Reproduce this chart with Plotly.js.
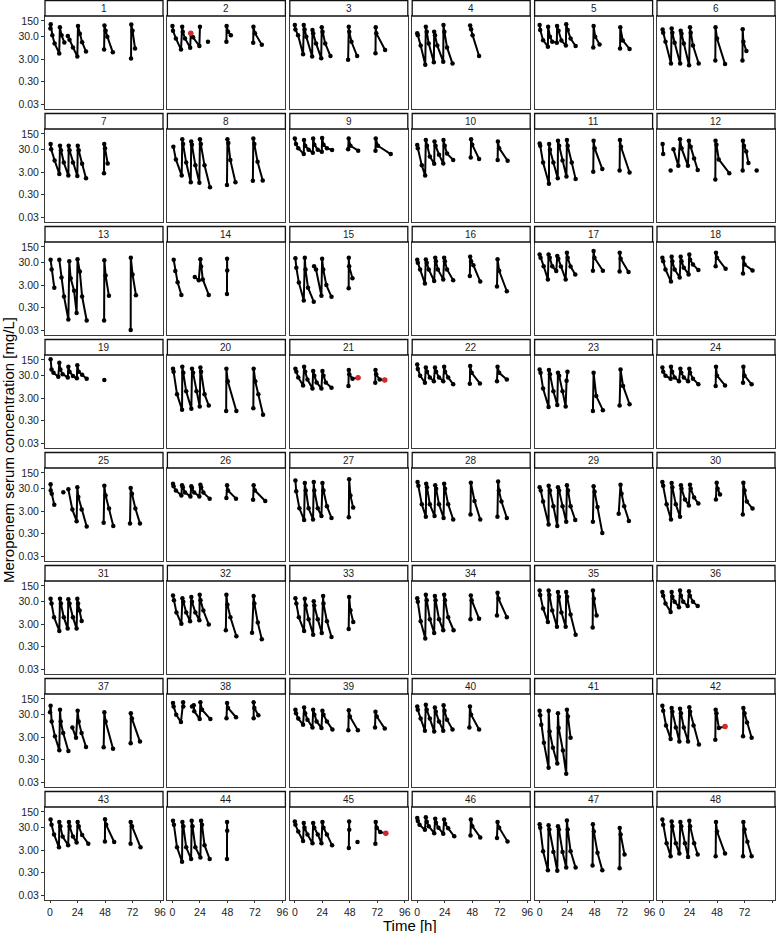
<!DOCTYPE html>
<html>
<head>
<meta charset="utf-8">
<script src="https://cdn.plot.ly/plotly-3.0.1.min.js"></script>
<style>html,body{margin:0;padding:0;background:#fff;}#plot{width:776px;height:933px;}</style>
</head>
<body>
<div id="plot"></div>
<script>
// Panel labels (patient IDs)
const panelLabels = Array.from({length: 48}, (_, i) => String(i + 1));

// Sampling times [h] per patient (null = break between sampling occasions)
const times = [
/*1*/ [0.3,0.6,2,4,8, 8.6,10,12.5, null, 15.5,17,20,23.8, 24.4,26,28,31.4, null, 47.2,47.5,48.5,50,54.8, null, 70.7,70.9,72,74.2],
/*2*/ [0,0.5,3,7.5, 8.5,9,11,15.5, 16,18,23.5, 24, null, 31, null, 47.1,47.3,48.5,51, null, 70.5,70.7,72,78],
/*3*/ [0,0.5,2.8,7.2, 7.8,8.5,10,15.1, 15.4,16,18.5,23, 23.5,24.2,26.5,31.1, null, 46.5,47.1,47.5,49.4,54.4, null, 70.4,70.6,71.1,78.8],
/*4*/ [0,0.5,3,7, 7.5,8.3,10,14.5, 14.8,15.5,17.5,22.7, 22.9,23.7,26,30.8, null, 46.2,47,48.3,54],
/*5*/ [0,0.5,3,7.2, 7.4,9,11,15, 15.2,16.5,19,22.9, 23.2,24.5,27,31.4, null, 46.8,47.1,48.5,52.3, null, 70.2,70.4,72.6,78.5],
/*6*/ [0.5,1,3,7.8, 8.4,9,11,15.8, 16.3,17,19,23.6, 24.4,25,27,32, null, 46.5,46.7,48,55, null, 70.2,70.4,71,73.6],
/*7*/ [0.5,1,4,8.1, 8.7,9.5,12,16, 16.3,17,20,23.8, 24.2,25,28,31.4, null, 47.1,47.3,48,50.3],
/*8*/ [0.8,3,8.1, 8.6,9.3,12,16, 16.4,17,20,23.5, 24,24.8,28,32.8, null, 47.6,48,48.8,50.5,55, null, 70.2,70.6,71.5,74.3,78.8],
/*9*/ [0,1,3,7.8, 8,9,12,15.7, 16,17,20,23.5, 23.8,25,28,32.5, null, 46.5,47,48.5,55.3, null, 70.4,70.6,72.5,83.7],
/*10*/ [0,0.5,4,6.9, 7.5,8.5,11,14.8, 15.1,16,19,22.7, 22.9,24,26,31.4, null, 46.7,47,48,54, null, 70.2,70.4,71.5,78.9],
/*11*/ [0,0.5,3,8.1, 8.3,9,12,15.8, 16,17,20,23.4, 23.8,24.5,28,31.4, null, 46.8,47.1,48,54.7, null, 69.8,70.1,71,78.5],
/*12*/ [0.5,1, null, 7.5, null, 10,14.2, 15.7,17,22.6, 23.4,25,28,31.1, null, 46.5,46.7,47.5,49.5,58.7, null, 70.4,70.6,71.5,73.5,75.4, null, 82.6],
/*13*/ [0.5,1.4,3.7, null, 8.1,10,12.2,16, 16.8,18,21,23.2, 24,26,28,32, null, 47.2,47.4,48.5,51.4, null, 70.4,70.5,72,75],
/*14*/ [1.1,2.5,4.5,7.8, null, 19.5,23, 24.4,25,26.5,31.7, null, 47.6,47.7,47.8],
/*15*/ [0.5,1.3,3.5,7.8, 8.7,9.3,11.5,16.5, null, 16.8,18.5,23.2, 23.8,24.8,27.5,32, null, 47,47.1,47.4,50.3],
/*16*/ [0,0.5,2.5,6.7, 7.5,8.3,10,14.8, 15.7,16.3,18,22.7, 23.5,24.1,26,31.4, null, 45.9,46.2,47,49,55, null, 69.6,70.1,71.5,78.2],
/*17*/ [0,0.8,3.5,7.2, 7.8,8.8,11,14.5, 15.4,16.3,18.5,22.7, 23.8,24.5,27,31.1, null, 46.5,47.1,47.8,55.2, null, 69.8,69.9,70.7,77.6],
/*18*/ [0.3,1,3,7.8, 8.4,9,11,15.4, 16.3,17,19,23.2, 23.8,24.5,27,31.7, null, 46.8,47.1,48,55.5, null, 70.7,71,72,79],
/*19*/ [0.5,1.3,3,7.2, 8.1,9,11,15.5, 16,17,20,23.4, 23.8,25,28,32, null, 47.4],
/*20*/ [0.5,1,4,8.4, 8.6,9.5,12,16.5, 17.1,18,21,23.8, 24.4,25,28,31.7, null, 46.9,47.1,48.3,55.8, null, 70.6,70.9,72.3,75,79.1],
/*21*/ [0.5,1.3,3,7.2, 8.1,9,11,15.4, 16,17,19,23.2, 24.1,25,27,32, null, 46.8,47.1,47.5,50.3,55.2, null, 70.2,70.4,71,74,78.5],
/*22*/ [0,0.5,2.5,6.7, 7.5,8.5,11,14.5, 15.5,16.5,19,22.7, 23.5,24.3,27,31.4, null, 45.9,46.2,47.5,54.7, null, 69.6,70.1,71.5,78.2],
/*23*/ [0,0.8,3,7.8, 8.1,9,12,15.4, 16,17,20,22.7, 23.5,24.3, null, 46.5,47.1,49.4,55.2, null, 69.8,70.6,72.8,78.5],
/*24*/ [0.3,1,3,7.5, 7.8,8.8,11,14.8, 16,16.8,19,22.7, 23.8,24.5,27,31.7, null, 46.8,47.1,48,55, null, 70.7,71,72,78.2],
/*25*/ [0.5,0.6,1.5,3.7, null, 11.6, null, 16,19.5,23.2, 23.8,24.7,27.6,32, null, 46.8,47.4,48.5,51.5,55.2, null, 69.8,70.4,71.5,74.5,78.5],
/*26*/ [0.5,1,3,7.8, 8.4,9,11,15.7, 16.5,17,19,23.5, 24.4,25,27,32.5, null, 47.1,47.7,48.5,55.5, null, 70.4,70.9,72,81],
/*27*/ [0.5,1.2,4,8.1, 8.7,9.5,12,15.9, 16.5,17,20,23.2, 24.1,25,28,32, null, 47.1,47.4,48.5,50.9],
/*28*/ [0.3,1,4,7.5, 7.8,8.5,11,15.1, 15.7,16.5,19,23, 23.5,24.3,27,31.4, null, 46.5,46.8,50,55, null, 70,70.6,71.3,73.5,78.2],
/*29*/ [0,1,3,7.8, 7.9,9,12,15.4, 16,17,20,23.2, 23.8,24.8,27,31.1, null, 46.5,47.1,48,50.5,54.7, null, 69,70.6,71.5,73.8,77.9],
/*30*/ [0.3,1,4,7.8, 8.4,9,12,15.7, 16.5,17,20,23.4, 24.4,25,28,31.7, null, 47,47.7,48.5,50.6, null, 70.5,71,72,74,79],
/*31*/ [0.5,1.3,3.5,8.1, 8.7,9.5,12,15.4, 16,17,20,23.2, 23.8,24.5,25.8,27.6],
/*32*/ [0.5,1.3,3.5,7.8, 8.7,9.5,12,15.4, 16.5,17,20,23.5, 23.8,24.5,27,31.7, null, 46.6,47.1,48,50.6,55.8, null, 69.5,70.9,71.5,74.5,78],
/*33*/ [0.5,1.3,3.5,8.1, 8.7,9.5,12,16, 16.5,17,20,23.5, 24.7,25,28,32, null, 47,47.4,48.5,51],
/*34*/ [0,0.5,3,7, 7.5,8.3,11,14.8, 15.4,16,19,22.7, 23.5,24.2,27,31.7, null, 46.5,46.8,47.5,54, null, 69.6,70.1,71,78.2],
/*35*/ [0,0.5,3,7.2, 7.8,8.5,11,15.1, 16,16.8,19,22.7, 23.2,24,27,31.4, null, 46.3,46.5,47.3,49.7],
/*36*/ [0.3,1,3,7.5, 8.4,9,11,14.8, 15.7,16.5,18.5,22.4, 23.5,24.3,27,31.1],
/*37*/ [0,0.5,1.4,4.3,8.1, 8.7,9.3,11.5,16, null, 19.5,22.7, 24.1,25,27.5,31.4, null, 46.8,47.4,48.5,55, null, 70.4,70.5,71.5,78.5],
/*38*/ [0.5,1,3.3,7.4, 9.3,9.5, null, 17.1,18.6,19,23.8, 24.4,25.8,33.1, null, 47.2,47.7,48.5,55.5, null, 70.9,70.9,71.5,75],
/*39*/ [0.5,1,3,7.2, 8.1,9,11,15.4, 16,17,19,23.2, 24.1,25,28,32.8, null, 46.7,47.1,48,55, null, 70,70.4,71.5,78.5],
/*40*/ [0,0.5,3,6.7, 7.5,8.3,11,14.8, 15.4,16.2,19,22.7, 23,23.8,26,30.8, null, 45.5,46,47,54],
/*41*/ [0,0.5,1.4,3.7,7.8, 7.9,8.7,11.6,15.4, 16,16.6,20.3,23.2, 23.8,24.7,27],
/*42*/ [0.3,1,3.5,7.5, 8.4,9,12,15.1, 15.7,16.5,19,22.7, 23.8,24.5,27.5,32.2, null, 46.5,46.8,47.5,49.6,55, null, 70.7,71,72,74.2,78.2],
/*43*/ [0.5,1.3,3.5,7.8, 8.1,9,11,15.8, 16.5,17,20,23.2, 24.1,25,28,33.4, null, 47.9,48,49,56, null, 70.3,70.4,71.5,79],
/*44*/ [0.5,1.3,4,8.4, 8.7,9.5,12,16.3, 16.8,17.5,20,24.4, 25,25.8,28,32.5, null, 47.6,47.7,47.8],
/*45*/ [0,0.5,3,7.2, 7.8,8.5,11,15.4, 16,17,20,23.2, 24.1,25,28,32.5, null, 47.1,47.4,47.5, null, 54.7, null, 70.3,70.6,71.5,74.5,79.4],
/*46*/ [0,0.5,2,6.7, 7.5,8.3,10,14.8, 15.7,16.3,18.5,22.7, 23.5,24.3,27,32.3, null, 46.5,46.8,48,55, null, 69.6,70.1,71.5,78.8],
/*47*/ [0,0.5,3,7.2, 7.8,8.5,12,15.4, 16,16.8,20,23.2, 23.8,24.5,27,31.4, null, 46.2,46.5,47.3,50.5,54.7, null, 69.8,69.9,70.7,74.1],
/*48*/ [0.3,1,4,7.5, 8.4,9,12,15.1, 16,16.8,20,22.7, 23.8,24.5,28,31.1, null, 46.8,47.1,48,55, null, 70.7,71,72,74.5,78.2]
];

// Meropenem serum concentrations [mg/L] per patient
const conc = [
/*1*/ [70,108,35,15,5.4, 78,35,16.5, null, 32,22,10,3.9, 90,40,17,6.5, null, 8,95,55,30,6, null, 3.2,105,55,9],
/*2*/ [90,55,25,8, 84,50,25,9.6, 43,28,11.5, 84, null, 17.7, null, 17.7,90,50,35, null, 16,84,43,13],
/*3*/ [100,63,35,5, 100,63,30,3.9, 60,43,15,3.3, 78,50,15,4.1, null, 2.8,84,50,17.7,4.1, null, 5.5,78,43,7.7],
/*4*/ [43,35,12,1.7, 84,50,15,2.2, 50,35,12,2.3, 100,50,10,1.9, null, 95,65,35,4.1],
/*5*/ [100,60,21,10.8, 84,30,18,16, 90,55,20,12, 106,60,25,11.5, null, 10,90,30,13.6, null, 9,78,20,8.5],
/*6*/ [63,45,17.7,1.9, 70,45,16,1.9, 55,40,15,1.6, 78,45,12,1.9, null, 2.6,78,25,1.8, null, 2.6,65,17.7,6.9],
/*7*/ [53,31,10,2.5, 45,28,8,2.1, 45,28,8,2.0, 45,28,7,1.6, null, 2.7,53,35,7.3],
/*8*/ [41,11,2.1, 87,53,8,1.07, 70,50,6,1.0, 87,53,6,0.64, null, 0.8,87,60,10.5,1.07, null, 1.25,95,53,8.7,1.27],
/*9*/ [95,53,35,19, 80,45,30,22, 95,50,30,24, 100,50,35,29, null, 31,95,45,27, null, 27,95,45,19],
/*10*/ [48,35,6,2.1, 80,45,15,7, 70,45,18,7.3, 80,45,20,10.5, null, 13.6,87,50,11.5, null, 10.5,70,35,9.6],
/*11*/ [57,45,8,0.9, 53,30,8,1.6, 75,45,10,1.9, 80,45,8,1.5, null, 3.1,75,35,4.1, null, 3.5,80,40,2.9],
/*12*/ [53,19, null, 3.5, null, 31,5.8, 87,35,5.8, 75,40,12,3.7, null, 1.4,75,50,11,2.7, null, 3.5,75,45,25,7.7, null, 3.5],
/*13*/ [40,15,2.3, null, 40,6.5,0.93,0.088, 35,6,1.7,0.17, 43,12,0.93,0.08, null, 0.08,38,8.1,1.0, null, 0.03,50,9,1.07],
/*14*/ [40,12.7,4,1.1, null, 6.9,4.9, 43,20,5.4,1.1, null, 1.2,45,13.6],
/*15*/ [47,18,3.9,0.62, 50,15,2.3,0.55, null, 21,15,1.0, 45,15,3,0.9, null, 2.2,50,21,6],
/*16*/ [40,30,15,3.5, 42,30,15,4.6, 50,35,15,5.4, 50,35,15,5, null, 7.7,55,35,23,4.3, null, 2.6,43,13,1.6],
/*17*/ [70,50,21,5.4, 70,50,21,12.7, 60,45,20,5.4, 84,50,20,9, null, 13,100,50,13, null, 12,84,45,11.5],
/*18*/ [50,35,15,4.3, 55,35,15,6.5, 55,35,18,9, 70,40,25,14, null, 21,84,50,16, null, 10,50,25,13.6],
/*19*/ [160,57,40,27, 113,57,35,25, 75,45,29,23, 87,45,33,22, null, 19],
/*20*/ [61,45,4.5,0.9, 75,40,6,1.0, 61,40,6,1.27, 70,45,4.5,1.4, null, 0.8,61,17,0.8, null, 1.07,61,17,4.5,0.54],
/*21*/ [61,45,25,11, 75,45,20,8.1, 48,30,15,8.1, 48,30,15,8.7, null, 10.5,53,35,22,24, null, 14.5,53,35,20,19],
/*22*/ [95,60,30,14.5, 70,45,25,17, 70,45,25,17, 75,45,25,12.3, null, 13,80,40,13.6, null, 17,75,40,20],
/*23*/ [57,40,8,1.2, 53,35,6,1.5, 41,30,6,1.27, 18,45, null, 0.8,41,3.7,0.87, null, 1.4,57,10.5,1.6],
/*24*/ [70,45,30,22, 75,45,25,17, 61,40,25,17, 61,40,22,12.3, null, 10.5,75,30,11, null, 14.5,75,30,12.3],
/*25*/ [47,25,18,5.8, null, 21, null, 28,3.5,1.07, 35,12.7,3.5,0.62, null, 0.9,40,15,3.9,0.66, null, 0.85,32,18,3.9,0.85],
/*26*/ [50,38,25,15, 43,35,20,13.6, 38,32,20,13.6, 45,35,20,10.8, null, 11.5,43,25,10.8, null, 9.6,43,25,8.5],
/*27*/ [70,23,4,1.2, 53,25,4,1.27, 60,25,4,1.8, 53,25,5,1.5, null, 1.6,78,15,4.3],
/*28*/ [60,40,6,1.7, 50,35,6,1.8, 43,30,6,1.5, 50,30,6,1.27, null, 2.1,55,8.5,1.27, null, 1.7,63,25,8.1,1.5],
/*29*/ [35,25,8,0.76, 40,25,5,0.66, 35,25,5,1.0, 43,25,4.9,1.2, null, 1.0,38,22,4.6,0.32, null, 2.3,45,18,5,1.1],
/*30*/ [60,40,6,1.27, 53,35,6,1.7, 43,30,10,5.4, 45,30,12,6.5, null, 10,55,30,16.5, null, 2.1,55,25,8,3.9],
/*31*/ [41,25,6.1,1.5, 41,25,6,1.9, 38,25,6,1.9, 41,25,12,4.1],
/*32*/ [57,35,10,3.1, 43,30,10,4, 48,30,10,4.5, 61,35,12,2.9, null, 1.6,61,22,6.1,0.87, null, 1.25,53,25,3.5,0.64],
/*33*/ [43,25,6,1.5, 41,20,5,1.0, 31,20,5,1.2, 53,25,4,0.8, null, 1.8,48,12.3,3.7],
/*34*/ [43,30,4,0.68, 61,35,5,1.2, 53,35,5,1.6, 61,35,6,1.6, null, 4.9,57,35,5.2, null, 7.3,75,40,6.1],
/*35*/ [95,60,15,3.7, 95,60,12,2.3, 80,50,10,2.3, 80,50,8,1.0, null, 2.1,95,40,7.3],
/*36*/ [80,55,25,10.5, 80,50,30,17, 95,55,30,19, 87,55,30,19],
/*37*/ [38,75,15,3.3,0.78, 50,15,4.6,0.72, null, 8,2.8, 45,15,4.6,1.1, null, 1.07,38,15,0.9, null, 1.6,35,20,1.9],
/*38*/ [100,70,30,14, 106,70, null, 70,78,43,19, 106,50,19, null, 21,100,60,23, null, 21,106,60,28],
/*39*/ [50,35,20,10.8, 63,35,18,8.1, 50,30,15,7.7, 45,30,15,6.5, null, 6,47,25,6, null, 8.1,40,25,7.2],
/*40*/ [70,50,20,5.8, 84,50,20,5.4, 63,40,15,5.8, 78,45,18,6.5, null, 8.1,70,30,6.5],
/*41*/ [45,28,10.8,1.7,0.13, 45,5.4,1.0,0.2, 35,7.7,0.76,0.07, 50,25,2.8],
/*42*/ [75,45,10,2.5, 60,40,8,1.9, 55,35,8,1.9, 65,40,10,1.4, null, 2.3,50,35,7.7,9, null, 3.3,60,35,13.6,2.8],
/*43*/ [70,40,15,4, 53,35,12,4.9, 53,35,12,6.6, 53,35,14,5.8, null, 7.3,72,40,6.9, null, 5.8,53,35,4],
/*44*/ [61,40,4,0.9, 53,35,4,1.2, 61,35,4,1.4, 61,40,5,1.2, null, 1.2,53,22],
/*45*/ [57,40,20,7.7, 48,30,15,6.1, 48,30,15,6.1, 53,30,15,4.9, null, 3.7,57,24, null, 6.9, null, 5.8,53,30,19,17],
/*46*/ [80,60,40,24, 87,55,35,17, 75,50,30,16, 70,45,28,12.3, null, 13.6,70,35,11, null, 10.5,53,30,7.3],
/*47*/ [43,30,2.7,0.38, 38,25,2.5,0.36, 35,25,2.5,0.5, 63,25,2.7,0.5, null, 0.62,43,20,2.3,0.38, null, 0.47,29,15,1.9],
/*48*/ [70,40,6,1.6, 57,35,6,2.1, 53,35,6,1.5, 61,35,6,1.9, null, 1.6,53,20,2.1, null, 1.6,53,25,7,1.6]
];

// Highlighted (red) observations
const redPanel = [2, 21, 21, 42, 45];
const redTime = [16, 55.2, 78.5, 55, 79.4];
const redConc = [43, 24, 19, 9, 17];

// Axis ticks
const yTickVals = [0.03, 0.3, 3, 30, 150];
const yTickText = ['0.03', '0.30', '3.00', '30.0', '150'];
const xTickVals = [0, 24, 48, 72, 96];

// ---------- build figure ----------
const W = 776, H = 933;
const NC = 6, NR = 8;
const colLeft0 = 45, colStep = 122.4, panelW = 118;
const rowTop0 = 16, rowStep = 113, panelH = 93, stripH = 15.5;
const FONT = '"Liberation Sans", Arial, Helvetica, sans-serif';

const traces = [];
const layout = {
  width: W, height: H, autosize: false,
  margin: {l: 0, r: 0, t: 0, b: 0, pad: 0},
  paper_bgcolor: '#fff', plot_bgcolor: '#fff',
  showlegend: false,
  font: {family: FONT, size: 10, color: '#222'},
  shapes: [], annotations: []
};

for (let i = 0; i < 48; i++) {
  const col = i % NC, row = Math.floor(i / NC);
  const left = colLeft0 + colStep * col;
  const top = rowTop0 + rowStep * row;
  const k = i + 1;
  const xName = k === 1 ? 'x' : 'x' + k;
  const yName = k === 1 ? 'y' : 'y' + k;
  const xKey = k === 1 ? 'xaxis' : 'xaxis' + k;
  const yKey = k === 1 ? 'yaxis' : 'yaxis' + k;
  const firstCol = col === 0, lastRow = row === NR - 1;

  layout[xKey] = {
    domain: [left / W, (left + panelW) / W],
    anchor: yName,
    range: [-4.4, 98.6],
    tickvals: xTickVals,
    showticklabels: lastRow,
    ticks: lastRow ? 'outside' : '',
    ticklen: 2, tickwidth: 1, tickcolor: '#333',
    ticklabelstandoff: 0,
    tickfont: {size: 10.5, color: '#222', family: FONT},
    showline: true, mirror: true, linecolor: '#3a3a3a', linewidth: 1,
    showgrid: false, zeroline: false, fixedrange: true
  };
  layout[yKey] = {
    domain: [1 - (top + panelH) / H, 1 - top / H],
    anchor: xName,
    type: 'log',
    range: [-1.745, 2.398],
    tickvals: yTickVals,
    ticktext: yTickText,
    showticklabels: firstCol,
    ticks: firstCol ? 'outside' : '',
    ticklen: 3, tickwidth: 1, tickcolor: '#333',
    tickfont: {size: 10.5, color: '#222', family: FONT},
    showline: true, mirror: true, linecolor: '#3a3a3a', linewidth: 1,
    showgrid: false, zeroline: false, fixedrange: true
  };

  traces.push({
    type: 'scatter', mode: 'lines+markers',
    x: times[i], y: conc[i],
    xaxis: xName, yaxis: yName,
    line: {color: '#000', width: 2},
    marker: {color: '#000', size: 4.5},
    connectgaps: false, hoverinfo: 'skip'
  });

  const rx = [], ry = [];
  redPanel.forEach((p, j) => { if (p === k) { rx.push(redTime[j]); ry.push(redConc[j]); } });
  if (rx.length) {
    traces.push({
      type: 'scatter', mode: 'markers', x: rx, y: ry,
      xaxis: xName, yaxis: yName,
      marker: {color: '#d42a2a', size: 5.5}, hoverinfo: 'skip'
    });
  }

  // strip
  layout.shapes.push({
    type: 'rect', xref: 'paper', yref: 'paper',
    x0: left / W, x1: (left + panelW) / W,
    y0: 1 - top / H, y1: 1 - (top - stripH) / H,
    line: {color: '#111', width: 1.3}, fillcolor: '#fff', layer: 'above'
  });
  layout.annotations.push({
    xref: 'paper', yref: 'paper',
    x: (left + panelW / 2) / W, y: 1 - (top - stripH / 2) / H,
    text: panelLabels[i], showarrow: false,
    xanchor: 'center', yanchor: 'middle',
    font: {size: 10, color: '#1a1a1a', family: FONT}
  });
}

// axis titles
layout.annotations.push({
  xref: 'paper', yref: 'paper', x: 410 / W, y: 1 - 925.5 / H,
  text: 'Time [h]', showarrow: false, xanchor: 'center', yanchor: 'middle',
  font: {size: 15, color: '#000', family: FONT}
});
layout.annotations.push({
  xref: 'paper', yref: 'paper', x: 8 / W, y: 1 - 450 / H,
  text: 'Meropenem serum concentration [mg/L]', showarrow: false,
  textangle: -90, xanchor: 'center', yanchor: 'middle',
  font: {size: 15, color: '#000', family: FONT}
});

Plotly.newPlot('plot', traces, layout, {staticPlot: true, displayModeBar: false});
</script>
</body>
</html>
